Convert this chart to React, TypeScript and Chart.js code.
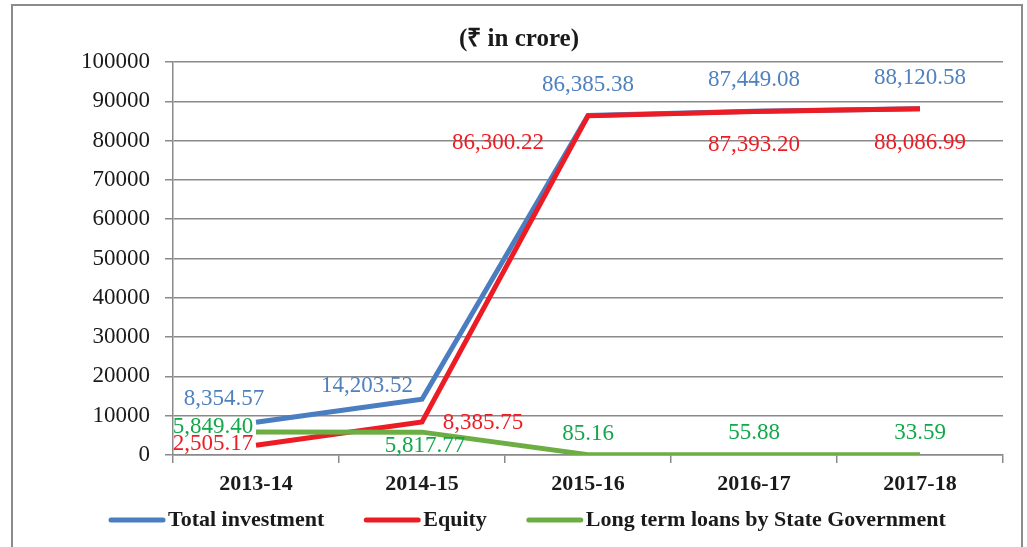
import React, { useEffect, useRef } from "react";
import { Chart, registerables } from "chart.js";

Chart.register(...registerables);

const categories = ["2013-14", "2014-15", "2015-16", "2016-17", "2017-18"];
const totalInvestment = [8354.57, 14203.52, 86385.38, 87449.08, 88120.58];
const equity = [2505.17, 8385.75, 86300.22, 87393.2, 88086.99];
const longTermLoans = [5849.4, 5817.77, 85.16, 55.88, 33.59];
const yMin = 0;
const yMax = 100000;
const yStep = 10000;
const seriesNames = ["Total investment", "Equity", "Long term loans by State Government"];
const titleText = "(₹ in crore)";

// styling
const lineColors = ["#4A7EC1", "#EC1C24", "#6DAE44"];
const labelColors = ["#4F81BD", "#ED1C24", "#12A84A"];
const labelOffsets = [
  [[-32, -23], [-55, -13], [0, -31], [0, -31], [0, -31]],
  [[-43, -1], [61, 1], [-90, 27], [0, 33], [0, 34]],
  [[-43, -5], [3, 14], [0, -21], [0, -22], [0, -22]],
];
const SERIF = "'Liberation Serif', 'Times New Roman', serif";

const fmt = (v: number) =>
  v.toLocaleString("en-US", { minimumFractionDigits: 2, maximumFractionDigits: 2 });

const labelPlugin = {
  id: "valueLabels",
  afterDatasetsDraw(chart: any) {
    const ctx = chart.ctx;
    ctx.save();
    ctx.font = `23px ${SERIF}`;
    ctx.textAlign = "center";
    ctx.textBaseline = "middle";
    chart.data.datasets.forEach((ds: any, i: number) => {
      const meta = chart.getDatasetMeta(i);
      meta.data.forEach((pt: any, j: number) => {
        const [dx, dy] = labelOffsets[i][j];
        ctx.fillStyle = labelColors[i];
        ctx.fillText(fmt(ds.data[j]), pt.x + dx, pt.y + dy);
      });
    });
    ctx.restore();
  },
};

const titleLegendPlugin = {
  id: "titleLegend",
  afterDraw(chart: any) {
    const ctx = chart.ctx;
    ctx.save();
    ctx.fillStyle = "#1a1a1a";
    ctx.font = `bold 25px ${SERIF}`;
    ctx.textAlign = "center";
    ctx.textBaseline = "middle";
    ctx.fillText(titleText, 519, 40);

    // legend
    ctx.font = `bold 22px ${SERIF}`;
    ctx.textAlign = "left";
    let x = 109;
    const y = 520;
    seriesNames.forEach((name, i) => {
      ctx.strokeStyle = lineColors[i];
      ctx.lineWidth = 5;
      ctx.lineCap = "round";
      ctx.beginPath();
      ctx.moveTo(x + 2, y);
      ctx.lineTo(x + 54, y);
      ctx.stroke();
      x += 59;
      ctx.fillStyle = "#1a1a1a";
      ctx.fillText(name, x, y);
      x += ctx.measureText(name).width + 40;
    });
    ctx.restore();
  },
};

export default function App() {
  const ref = useRef<HTMLCanvasElement | null>(null);

  useEffect(() => {
    if (!ref.current) return;
    const mk = (label: string, data: number[], i: number, order: number) => ({
      label,
      data,
      borderColor: lineColors[i],
      backgroundColor: lineColors[i],
      borderWidth: 5,
      pointRadius: 0,
      tension: 0,
      fill: false,
      order,
    });
    const chart = new Chart(ref.current, {
      type: "line",
      data: {
        labels: categories,
        datasets: [
          mk(seriesNames[0], totalInvestment, 0, 3),
          mk(seriesNames[1], equity, 1, 2),
          mk(seriesNames[2], longTermLoans, 2, 1),
        ],
      },
      options: {
        responsive: false,
        animation: false,
        layout: { padding: { left: 12, right: 24, top: 62, bottom: 0 } },
        plugins: {
          legend: { display: false },
          title: { display: false },
          tooltip: { enabled: false },
        },
        scales: {
          x: {
            offset: true,
            grid: {
              offset: true,
              drawOnChartArea: false,
              drawTicks: true,
              tickLength: 8,
              color: "#8a8a8a",
              lineWidth: 1.5,
            },
            border: { display: true, color: "#8a8a8a", width: 1.5 },
            ticks: {
              color: "#1a1a1a",
              padding: 8,
              font: { family: SERIF, size: 22, weight: "bold" },
              maxRotation: 0,
            },
            afterFit: (s: any) => {
              s.height = 92;
            },
          },
          y: {
            min: yMin,
            max: yMax,
            ticks: {
              stepSize: yStep,
              color: "#1a1a1a",
              padding: 15,
              font: { family: SERIF, size: 23 },
              callback: (v: any) => String(v),
            },
            grid: {
              color: "#8a8a8a",
              lineWidth: 1.5,
              tickLength: 8,
            },
            border: { display: true, color: "#8a8a8a", width: 1.5 },
            afterFit: (s: any) => {
              s.width = 161;
            },
          },
        },
      },
      plugins: [labelPlugin, titleLegendPlugin],
    } as any);
    return () => chart.destroy();
  }, []);

  return (
    <div
      style={{
        position: "fixed",
        left: 0,
        top: 0,
        width: 1027,
        height: 547,
        overflow: "hidden",
        background: "#fff",
      }}
    >
      <div
        style={{
          position: "absolute",
          left: 11,
          top: 4,
          width: 1008,
          height: 600,
          border: "2px solid #8c8c8c",
        }}
      />
      <canvas
        ref={ref}
        width={1027}
        height={547}
        style={{ position: "absolute", left: 0, top: 0, width: 1027, height: 547 }}
      />
    </div>
  );
}
